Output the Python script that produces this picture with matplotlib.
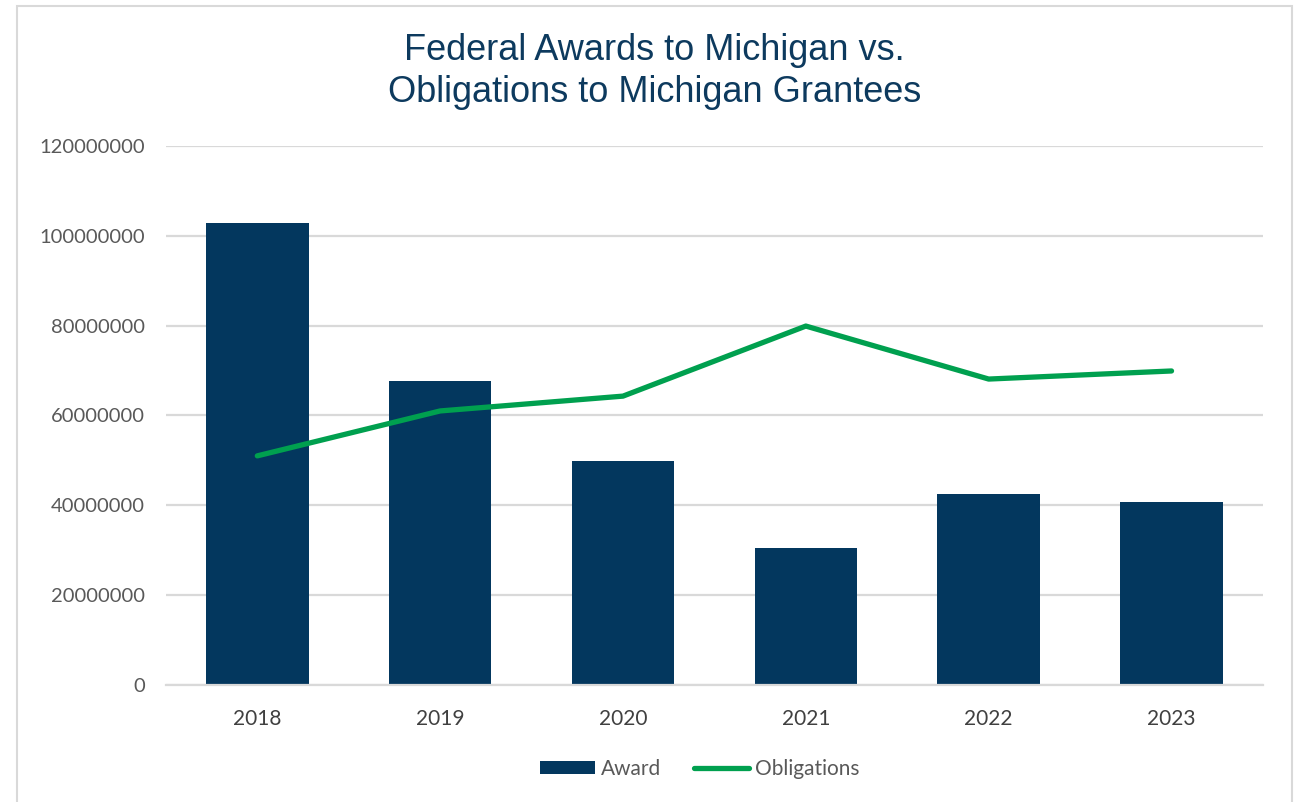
import matplotlib.pyplot as plt
from matplotlib.patches import Rectangle
from matplotlib.ticker import FuncFormatter

years = ['2018', '2019', '2020', '2021', '2022', '2023']
award = [102900000, 67700000, 49900000, 30500000, 42500000, 40700000]
obligations = [51000000, 61000000, 64300000, 79900000, 68100000, 69900000]

navy = '#03375E'
green = '#00A04F'
grid_c = '#D9D9D9'
tick_c = '#595959'

fig = plt.figure(figsize=(12.96, 8.02), dpi=100)
ax = fig.add_axes([0.128, 0.146, 0.8465, 0.672])

x = range(len(years))
bars = ax.bar(x, award, width=0.56, color=navy, label='Award', zorder=2)
line, = ax.plot(x, obligations, color=green, linewidth=3.8, solid_capstyle='round',
                label='Obligations', zorder=3)

ax.set_xlim(-0.5, len(years) - 0.5)
ax.set_ylim(0, 120000000)
ax.set_yticks(range(0, 120000001, 20000000))
ax.yaxis.set_major_formatter(FuncFormatter(lambda v, p: f'{int(v)}'))
ax.set_xticks(list(x))
ax.set_xticklabels(years)

ax.grid(axis='y', color=grid_c, linewidth=1.6, zorder=0)
ax.set_axisbelow(True)
for s in ['top', 'right', 'left']:
    ax.spines[s].set_visible(False)
ax.spines['bottom'].set_color(grid_c)
ax.spines['bottom'].set_linewidth(1.6)
ax.tick_params(axis='both', length=0)
ax.tick_params(axis='y', labelsize=14.5, labelcolor=tick_c, pad=15)
ax.tick_params(axis='x', labelsize=15, labelcolor='#404040', pad=17)
for lbl in ax.get_xticklabels() + ax.get_yticklabels():
    lbl.set_family('Lato')

fig.text(0.505, 0.911, 'Federal Awards to Michigan vs.\nObligations to Michigan Grantees',
         ha='center', va='center', fontsize=26, color='#0D3A5E',
         family='Liberation Sans', linespacing=1.27)

leg = fig.legend([bars, line], ['Award', 'Obligations'], loc='center',
                 bbox_to_anchor=(0.54, 0.041), ncol=2, frameon=False,
                 prop={'family': 'Lato', 'size': 15}, handlelength=2.6,
                 handleheight=0.55, columnspacing=1.6, handletextpad=0.3)
for t in leg.get_texts():
    t.set_color(tick_c)

fig.patches.append(Rectangle((17 / 1296, -0.05), (1292 - 17) / 1296, 1.05 - 6 / 802,
                             transform=fig.transFigure, fill=False,
                             edgecolor=grid_c, linewidth=1.5))

fig.savefig('out.png', dpi=100)
